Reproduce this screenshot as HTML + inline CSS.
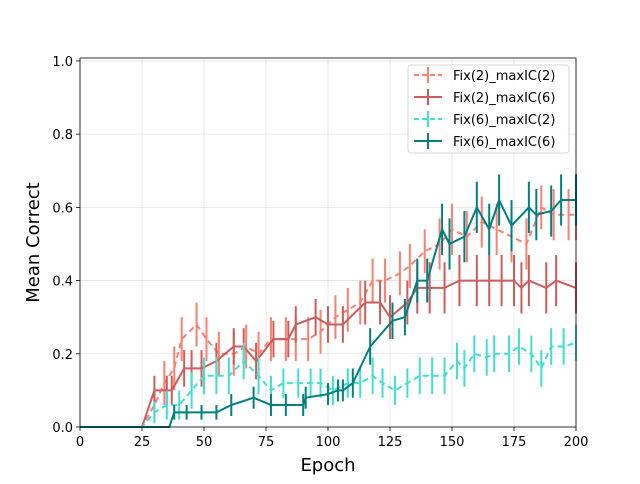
<!DOCTYPE html>
<html><head><meta charset="utf-8"><style>
body{margin:0;background:#fff;font-family:"DejaVu Sans","Liberation Sans",sans-serif}
svg text{font-family:"DejaVu Sans","Liberation Sans",sans-serif}
</style></head><body>
<svg id="chart" width="640" height="480" xmlns="http://www.w3.org/2000/svg"></svg>
<script>
const xTicks=[0,25,50,75,100,125,150,175,200];
const yTicks=[0.0,0.2,0.4,0.6,0.8,1.0];
const seriesNames=["Fix(2)_maxIC(2)","Fix(2)_maxIC(6)","Fix(6)_maxIC(2)","Fix(6)_maxIC(6)"];
const s1x=[0,25,30,34,38,41,47,51,56,62,67,72,77,83,87,92,97,103,108,113,118,123,129,133,139,145,150,156,162,168,174,180,186,191,197,200];
const s1y=[0,0,0.06,0.12,0.16,0.24,0.28,0.24,0.2,0.2,0.22,0.2,0.24,0.24,0.24,0.24,0.26,0.3,0.32,0.34,0.4,0.4,0.42,0.44,0.48,0.5,0.54,0.52,0.56,0.54,0.52,0.5,0.6,0.58,0.58,0.58];
const s1e=[0,0,0.04,0.06,0.06,0.06,0.06,0.06,0.06,0.06,0.06,0.06,0.06,0.06,0.06,0.06,0.06,0.06,0.06,0.06,0.06,0.06,0.06,0.06,0.06,0.07,0.07,0.07,0.07,0.07,0.07,0.07,0.06,0.07,0.07,0.07];
const s2x=[0,25,30,35,37,42,45,49,55,62,66,71,78,84,87,95,100,106,115,121,125,132,136,141,147,153,160,165,170,175,178,181,188,192,200];
const s2y=[0,0,0.1,0.1,0.1,0.16,0.16,0.16,0.18,0.22,0.22,0.18,0.24,0.24,0.28,0.3,0.28,0.28,0.34,0.34,0.3,0.34,0.38,0.38,0.38,0.4,0.4,0.4,0.4,0.4,0.38,0.4,0.38,0.4,0.38];
const s2e=[0,0,0.04,0.04,0.04,0.05,0.05,0.05,0.05,0.05,0.05,0.05,0.05,0.05,0.05,0.05,0.05,0.05,0.06,0.06,0.06,0.06,0.07,0.07,0.07,0.07,0.07,0.07,0.07,0.07,0.07,0.07,0.07,0.07,0.07];
const s3x=[0,25,30,35,40,45,50,55,60,66,72,77,82,88,93,97,102,108,113,118,122,127,132,137,142,147,152,155,159,164,167,173,177,182,186,190,195,200];
const s3y=[0,0,0.04,0.06,0.06,0.1,0.14,0.14,0.14,0.18,0.14,0.1,0.12,0.12,0.12,0.12,0.1,0.12,0.12,0.14,0.12,0.1,0.12,0.14,0.14,0.14,0.18,0.16,0.2,0.19,0.2,0.2,0.22,0.2,0.16,0.22,0.22,0.23];
const s3e=[0,0,0.03,0.04,0.04,0.05,0.05,0.05,0.05,0.05,0.05,0.04,0.04,0.04,0.04,0.04,0.04,0.04,0.04,0.05,0.04,0.04,0.04,0.05,0.05,0.05,0.05,0.05,0.05,0.05,0.05,0.05,0.05,0.05,0.05,0.05,0.05,0.05];
const s4x=[0,25,36,38,43,49,55,61,70,77,83,90,91,100,104,106,110,117,126,131,136,140,146,149,155,160,165,169,174,181,184,190,194,200];
const s4y=[0,0,0,0.04,0.04,0.04,0.04,0.06,0.08,0.06,0.06,0.06,0.08,0.09,0.1,0.1,0.12,0.22,0.29,0.3,0.4,0.4,0.54,0.5,0.52,0.6,0.54,0.62,0.55,0.6,0.58,0.59,0.62,0.62];
const s4e=[0,0,0,0.02,0.02,0.02,0.02,0.03,0.03,0.03,0.03,0.03,0.03,0.03,0.03,0.03,0.04,0.05,0.05,0.05,0.06,0.06,0.07,0.07,0.07,0.07,0.07,0.07,0.07,0.07,0.07,0.07,0.07,0.07];
const series=[
 {x:s1x,y:s1y,e:s1e,c:"#fa8072",dash:"6,4"},
 {x:s2x,y:s2y,e:s2e,c:"#cd5c5c",dash:""},
 {x:s3x,y:s3y,e:s3e,c:"#40e0d0",dash:"6,4"},
 {x:s4x,y:s4y,e:s4e,c:"#008080",dash:""}];
const L=80,R=576,T=58,B=427;
const X=v=>L+(v/200)*(R-L);
const Y=v=>B-(v/1.008)*(B-T);
const svg=document.getElementById('chart');
const NS="http://www.w3.org/2000/svg";
function mk(t,a,p){const e=document.createElementNS(NS,t);for(const k in a)e.setAttribute(k,a[k]);(p||svg).appendChild(e);return e;}
xTicks.forEach(t=>{const g=mk('line',{x1:X(t),x2:X(t),y1:T,y2:B,stroke:'#b0b0b0','stroke-opacity':0.35,'stroke-width':0.8});

});
yTicks.forEach(t=>{const g=mk('line',{x1:L,x2:R,y1:Y(t),y2:Y(t),stroke:'#b0b0b0','stroke-opacity':0.35,'stroke-width':0.8});

});
series.forEach((s,i)=>{
 const g=mk('g',{});
 
 
 s.x.forEach((xv,j)=>{if(s.e[j]>0){const b=mk('line',{x1:X(xv),x2:X(xv),y1:Y(s.y[j]-s.e[j]),y2:Y(s.y[j]+s.e[j]),stroke:s.c,'stroke-width':2},g);
  
  }});
 const pts=s.x.map((xv,j)=>X(xv).toFixed(1)+','+Y(s.y[j]).toFixed(1)).join(' ');
 const p=mk('polyline',{points:pts,fill:'none',stroke:s.c,'stroke-width':2,'stroke-dasharray':s.dash,'stroke-linejoin':'round'},g);
 
 
});
const fr=mk('rect',{x:L,y:T,width:R-L,height:B-T,fill:'none',stroke:'#000','stroke-width':0.8});


xTicks.forEach(t=>{mk('line',{x1:X(t),x2:X(t),y1:B,y2:B+4,stroke:'#000','stroke-width':0.8});
 const tx=mk('text',{x:X(t),y:B+19,'text-anchor':'middle','font-size':13,fill:'#000'});tx.textContent=t;
 
 });
yTicks.forEach(t=>{mk('line',{x1:L-4,x2:L,y1:Y(t),y2:Y(t),stroke:'#000','stroke-width':0.8});
 const tx=mk('text',{x:L-7,y:Y(t)+5,'text-anchor':'end','font-size':13,fill:'#000'});tx.textContent=t.toFixed(1);
 
 });
const xt=mk('text',{x:(L+R)/2,y:471,'text-anchor':'middle','font-size':18});xt.textContent='Epoch';


const yt=mk('text',{x:39,y:(T+B)/2,'text-anchor':'middle','font-size':18,transform:'rotate(-90 39 '+((T+B)/2)+')'});yt.textContent='Mean Correct';


const lg=mk('g',{});


mk('rect',{x:408,y:65,width:161,height:88,rx:3,fill:'#fff','fill-opacity':0.8,stroke:'#ccc','stroke-width':0.8},lg);
series.forEach((s,i)=>{const yy=75+i*22;
 const e=mk('g',{},lg);
 
 
 mk('line',{x1:414,x2:442,y1:yy,y2:yy,stroke:s.c,'stroke-width':2,'stroke-dasharray':s.dash?'5,3':''},e);
 mk('line',{x1:428,x2:428,y1:yy-8,y2:yy+8,stroke:s.c,'stroke-width':2},e);
 const t=mk('text',{x:453,y:yy+5,'font-size':13,fill:'#000'},e);t.textContent=seriesNames[i];});
</script>
</body></html>
